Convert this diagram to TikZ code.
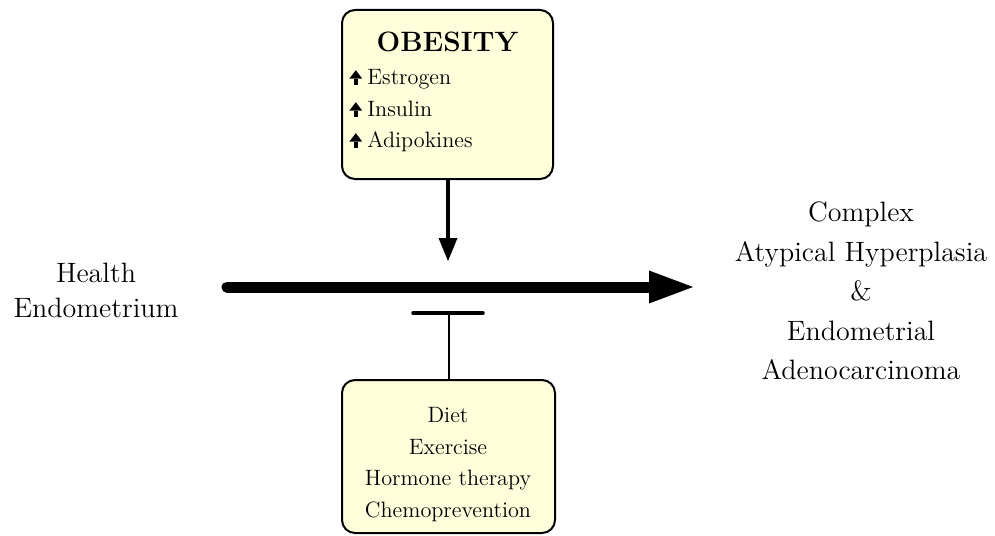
\documentclass[tikz,border=0pt]{standalone}
\usepackage{fontspec}
\usetikzlibrary{arrows.meta}
\definecolor{boxfill}{RGB}{255,255,220}
\newcommand{\upicon}{\tikz[baseline=0pt]\draw[line width=1.7pt,-{Triangle[length=4.2pt,width=6.4pt,line width=0pt]}] (0,0)--(0,7.4pt);}
\tikzset{
  panel/.style={draw=black,line width=1pt,fill=boxfill,rounded corners=6.5pt,inner sep=0pt},
  bigtext/.style={font=\fontsize{14}{19.75}\selectfont,align=center,inner sep=0pt},
  boxtext/.style={font=\fontsize{11.1}{15.7}\selectfont,inner sep=0pt},
}
\begin{document}
\begin{tikzpicture}[x=0.5pt,y=-0.5pt]
\useasboundingbox (0,0) rectangle (995,535);
% boxes
\node[panel,minimum width=105.5pt,minimum height=84.5pt] (obes) at (447.5,94.5) {};
\node[panel,minimum width=106.5pt,minimum height=76.5pt] (interv) at (448.5,456.5) {};
% obesity texts
\node[anchor=base,inner sep=0pt,font=\fontsize{14}{16}\selectfont\bfseries] (obtitle) at (447.5,52) {OBESITY};
\node[boxtext,anchor=base west] (estr) at (349,85) {\upicon\hspace{2.6pt}Estrogen};
\node[boxtext,anchor=base west] (insu) at (349,117) {\upicon\hspace{2.6pt}Insulin};
\node[boxtext,anchor=base west] (adip) at (349,148) {\upicon\hspace{2.6pt}Adipokines};
% intervention texts
\node[boxtext,align=center,anchor=center] (intxt) at (448,464.6) {Diet\\Exercise\\Hormone therapy\\Chemoprevention};
% side texts
\node[bigtext,font=\fontsize{14}{17.5}\selectfont] (health) at (96,290) {Health\\Endometrium};
\node[bigtext] (outcome) at (861,291) {Complex\\Atypical Hyperplasia\\\&\\Endometrial\\Adenocarcinoma};
% main arrow
\coordinate (mstart) at (227,287);
\coordinate (mend) at (693,287);
\draw[line width=5.5pt,line cap=round,-{Triangle[length=22pt,width=16.5pt,line width=0pt]}] (mstart) -- (mend);
% obesity arrow
\coordinate (otip) at (448,261);
\draw[line width=1.6pt,-{Triangle[length=11.5pt,width=9.5pt,line width=0pt]}] (obes.south -| otip) -- (otip);
% inhibition
\coordinate (tbar) at (449,313);
\draw[line width=0.8pt] (interv.north -| tbar) -- (tbar);
\draw[line width=1.75pt,line cap=round] ([xshift=-18pt]tbar) -- ([xshift=17pt]tbar);
\end{tikzpicture}
\end{document}
